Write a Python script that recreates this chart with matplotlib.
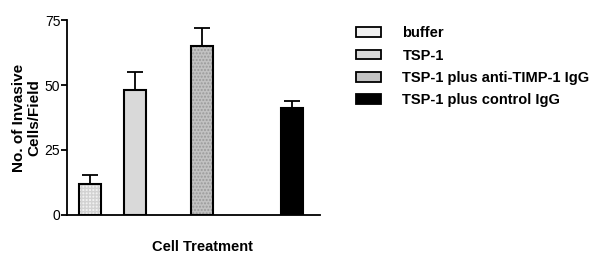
import matplotlib
matplotlib.use("Agg")
import matplotlib.pyplot as plt
from matplotlib.patches import Patch

plt.rcParams["font.family"] = ["Liberation Sans", "DejaVu Sans"]

# data
groups = ["buffer", "TSP-1", "TSP-1 plus anti-TIMP-1 IgG", "TSP-1 plus control IgG"]
means = [12, 48, 65, 41]
sems = [3.5, 7, 7, 3]
yticks = [0, 25, 50, 75]

# layout / style
positions = [23, 68, 135, 225]
bar_w = 22
faces = ["#f1f1f1", "#d9d9d9", "#c2c2c2", "#000000"]
hatches = ["+++++", None, ".....", None]
hatch_cols = ["#d2d2d2", None, "#9a9a9a", None]

fig = plt.figure(figsize=(6, 2.64), dpi=100)
ax = fig.add_axes([0.112, 0.186, 0.421, 0.738])

for x, m, s, fc, h, hc in zip(positions, means, sems, faces, hatches, hatch_cols):
    if h:
        ax.bar(x, m, width=bar_w, color=fc, edgecolor=hc, hatch=h, linewidth=0, zorder=2)
        ax.bar(x, m, width=bar_w, color="none", edgecolor="black", linewidth=1.5, zorder=3)
    else:
        ax.bar(x, m, width=bar_w, color=fc, edgecolor="black", linewidth=1.5, zorder=3)
    ax.errorbar(x, m, yerr=[[0], [s]], color="black", capsize=6, capthick=1.3,
                elinewidth=1.3, zorder=1)

ax.set_xlim(0, 253)
ax.set_ylim(0, 75)
ax.set_yticks(yticks)
ax.set_xticks([])
ax.tick_params(axis="y", labelsize=10, length=4, width=1.3, pad=1)
for sp in ["top", "right"]:
    ax.spines[sp].set_visible(False)
ax.spines["left"].set_linewidth(1.3)
ax.spines["bottom"].set_linewidth(1.3)

ax.set_ylabel("No. of Invasive\nCells/Field", fontsize=11, fontweight="bold",
              labelpad=2, linespacing=1.2)
fig.text(0.337, 0.048, "Cell Treatment", fontsize=10.5, fontweight="bold", ha="center")

handles = []
for g, fc, h, hc in zip(groups, faces, hatches, hatch_cols):
    handles.append(Patch(facecolor=fc, edgecolor="black", linewidth=1.3, label=g))
fig.legend(handles=handles, loc="upper left", bbox_to_anchor=(0.571, 0.95),
           frameon=False, prop={"size": 10.5, "weight": "bold"},
           handlelength=1.7, handleheight=0.65, handletextpad=1.5, labelspacing=0.57)

fig.savefig("out.png", dpi=100)
